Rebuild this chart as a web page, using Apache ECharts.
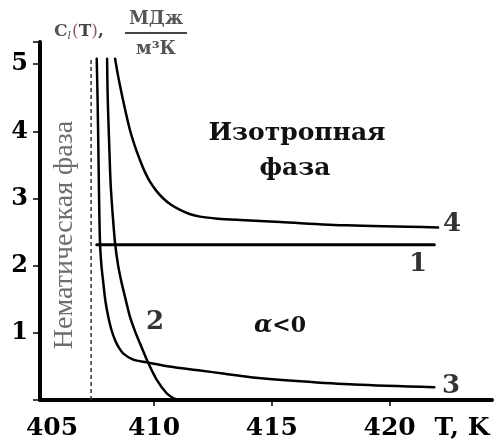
<!DOCTYPE html>
<html>
<head>
<meta charset="utf-8">
<script src="https://cdn.jsdelivr.net/npm/echarts@6/dist/echarts.min.js"></script>
<style>
  html, body { margin: 0; padding: 0; background: #fff; }
  #chart { width: 500px; height: 446px; }
</style>
</head>
<body>
<div id="chart"></div>
<script>
// Heat capacity C_l(T) near the nematic–isotropic transition, four model curves
const xTicks = [405, 410, 415, 420];
const yTicks = [1, 2, 3, 4, 5];

// curve 1: constant level
const curve1 = [[407.56, 2.31], [421.9, 2.31]];
// curve 2: steep drop reaching zero just after 411 K
const curve2 = [[408.0, 5.08], [408.02, 4.6], [408.05, 4.22], [408.1, 3.7], [408.15, 3.22],
                [408.24, 2.75], [408.34, 2.33], [408.47, 2.0], [408.62, 1.74], [408.8, 1.48],
                [408.97, 1.24], [409.18, 1.03], [409.4, 0.84], [409.75, 0.55], [410.11, 0.3],
                [410.53, 0.1], [410.8, 0.03], [411.03, 0]];
// curve 3: divergence near 407.6 K with a low tail
const curve3 = [[407.56, 5.08], [407.6, 4.4], [407.63, 3.72], [407.66, 3.0], [407.7, 2.33],
                [407.76, 2.0], [407.84, 1.74], [407.93, 1.47], [408.05, 1.24], [408.18, 1.05],
                [408.34, 0.89], [408.5, 0.78], [408.69, 0.69], [409.11, 0.6], [409.68, 0.56],
                [410.8, 0.49], [411.95, 0.44], [413.0, 0.39], [414.1, 0.34], [416.2, 0.28],
                [418.5, 0.23], [421.9, 0.19]];
// curve 4: divergence near 408.3 K levelling off above curve 1
const curve4 = [[408.34, 5.08], [408.48, 4.8], [408.62, 4.56], [408.8, 4.27], [408.97, 4.02],
                [409.18, 3.78], [409.4, 3.57], [409.6, 3.4], [409.82, 3.25], [410.1, 3.11],
                [410.39, 3.0], [410.7, 2.91], [411.1, 2.83], [411.5, 2.77], [411.95, 2.73],
                [412.7, 2.7], [413.65, 2.68], [415.35, 2.65], [418.19, 2.6], [422.06, 2.57]];
// dashed boundary of the nematic phase
const boundary = [[407.32, 0], [407.32, 5.08]];

// curve number labels: [x, y, text]
const curveTags = [[422.65, 2.62, '4'], [421.21, 2.02, '1'], [422.61, 0.21, '3'], [410.04, 1.16, '2']];

const serifBold = { fontFamily: 'DejaVu Serif', fontWeight: 'bold', color: '#000' };

const lineSeries = (data, w) => ({
  type: 'line', data, showSymbol: false, symbol: 'none', smooth: 0.3,
  lineStyle: { color: '#000', width: w, join: 'round', cap: 'round' }, silent: true, clip: true, z: 3
});

const chart = echarts.init(document.getElementById('chart'), null, { renderer: 'canvas' });
chart.setOption({
  animation: false,
  backgroundColor: '#fff',
  grid: { left: 40, right: 8, top: 42, bottom: 46 },
  xAxis: {
    type: 'value', min: 405.15, max: 424.35,
    axisLine: { show: true, lineStyle: { color: '#000', width: 4 } },
    axisTick: { show: true, customValues: xTicks.slice(1), length: 6, lineStyle: { color: '#000', width: 1.5 } },
    axisLabel: {
      customValues: [405.15].concat(xTicks.slice(1)),
      formatter: v => (Math.abs(v - 405.15) < 0.01 ? '{f|405}' : String(Math.round(v))),
      margin: 16, fontSize: 25, ...serifBold,
      rich: { f: { fontSize: 25, ...serifBold, padding: [0, 0, 0, 24] } }
    },
    splitLine: { show: false }
  },
  yAxis: {
    type: 'value', min: 0, max: 5.33, interval: 1,
    axisLine: { show: true, lineStyle: { color: '#000', width: 4 } },
    axisTick: { show: true, length: 7, lineStyle: { color: '#000', width: 1.5 } },
    axisLabel: {
      formatter: v => (yTicks.includes(v) ? String(v) : ''),
      margin: 12, fontSize: 24, ...serifBold
    },
    splitLine: { show: false }
  },
  series: [
    {
      type: 'line', data: boundary, showSymbol: false, symbol: 'none', silent: true,
      lineStyle: { color: '#333', width: 1.5, type: [4, 3] }, z: 2
    },
    lineSeries(curve1, 3),
    lineSeries(curve2, 2.5),
    lineSeries(curve3, 2.5),
    lineSeries(curve4, 2.5),
    {
      type: 'scatter', symbolSize: 0, silent: true,
      data: curveTags.map(t => ({ value: [t[0], t[1]], name: t[2] })),
      label: { show: true, position: 'inside', formatter: p => p.name, fontSize: 26, ...serifBold }
    }
  ],
  graphic: [
    // vertical phase label
    {
      type: 'text', x: 65, y: 235, rotation: Math.PI / 2, z: 10,
      style: {
        text: 'Нематическая фаза', fontFamily: 'Liberation Serif', fontSize: 28,
        fill: '#6e6e6e', align: 'center', verticalAlign: 'middle'
      }
    },
    {
      type: 'text', x: 297, y: 133, z: 10,
      style: {
        text: 'Изотропная', fontFamily: 'DejaVu Serif', fontWeight: 'bold', fontSize: 25,
        fill: '#111', align: 'center', verticalAlign: 'middle'
      }
    },
    {
      type: 'text', x: 295, y: 168, z: 10,
      style: {
        text: 'фаза', fontFamily: 'DejaVu Serif', fontWeight: 'bold', fontSize: 25,
        fill: '#111', align: 'center', verticalAlign: 'middle'
      }
    },
    {
      type: 'text', x: 280, y: 326, z: 10,
      style: {
        text: '{a|α}{b|<0}', align: 'center', verticalAlign: 'middle',
        rich: {
          a: { fontFamily: 'DejaVu Serif', fontStyle: 'italic', fontWeight: 'bold', fontSize: 24, fill: '#111' },
          b: { fontFamily: 'DejaVu Serif', fontWeight: 'bold', fontSize: 22, fill: '#111' }
        }
      }
    },
    // axis names
    {
      type: 'text', x: 462, y: 428, z: 10,
      style: {
        text: 'T, K', fontFamily: 'DejaVu Serif', fontWeight: 'bold', fontSize: 25,
        fill: '#000', align: 'center', verticalAlign: 'middle'
      }
    },
    {
      type: 'text', x: 54, y: 32, z: 10,
      style: {
        text: '{c|C}{s|l}{p|(}{t|T}{p|)}{t|,}', verticalAlign: 'middle',
        rich: {
          c: { fontFamily: 'DejaVu Serif', fontWeight: 'bold', fontSize: 17, fill: '#555' },
          s: { fontFamily: 'DejaVu Serif', fontStyle: 'italic', fontSize: 11, fill: '#555', padding: [8, 1, 0, 0] },
          p: { fontFamily: 'DejaVu Serif', fontSize: 17, fill: '#8a5a5a' },
          t: { fontFamily: 'DejaVu Serif', fontWeight: 'bold', fontSize: 17, fill: '#444' }
        }
      }
    },
    {
      type: 'text', x: 156, y: 19, z: 10,
      style: {
        text: 'МДж', fontFamily: 'DejaVu Serif', fontWeight: 'bold', fontSize: 18,
        fill: '#555', align: 'center', verticalAlign: 'middle'
      }
    },
    {
      type: 'line', z: 10,
      shape: { x1: 125, y1: 33, x2: 187, y2: 33 },
      style: { stroke: '#444', lineWidth: 2 }
    },
    {
      type: 'text', x: 156, y: 49, z: 10,
      style: {
        text: 'м³К', fontFamily: 'DejaVu Serif', fontWeight: 'bold', fontSize: 18,
        fill: '#555', align: 'center', verticalAlign: 'middle'
      }
    }
  ]
});
</script>
</body>
</html>
